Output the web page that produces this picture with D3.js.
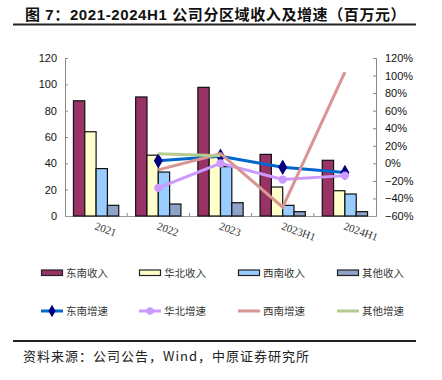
<!DOCTYPE html>
<html><head><meta charset="utf-8">
<script src="https://cdn.jsdelivr.net/npm/d3@7"></script>
<style>body{margin:0;background:#fff}svg{display:block}</style>
</head><body>
<svg id="c" width="442" height="380"></svg>
<script>
const categories = ["2021","2022","2023","2023H1","2024H1"];
const eastRev  = [87.5, 90.4, 97.7, 46.8, 42.3];
const northRev = [64, 46.2, 46, 22, 19.2];
const westRev  = [36, 33.4, 37.5, 8.1, 16.7];
const otherRev = [8.1, 9.1, 10.1, 3.3, 3.3];
const eastGr  = [null, 0.03, 0.08, -0.045, -0.105];
const northGr = [null, -0.28, 0.0, -0.185, -0.14];
const westGr  = [null, -0.075, 0.11, -0.50, 1.04];
const otherGr = [null, 0.11, 0.085, null, null];
const leftTicks = [0,20,40,60,80,100,120];
const rightTicks = [-0.6,-0.4,-0.2,0,0.2,0.4,0.6,0.8,1.0,1.2];

const svg = d3.select("#c");
const L = 65, R = 376, T = 58, B = 216;
const x = d3.scaleBand().domain(categories).range([L, R]).paddingInner(0.272).paddingOuter(0.136);
const xi = d3.scaleBand().domain([0,1,2,3]).range([0, x.bandwidth()]);
const y = d3.scaleLinear().domain([0,120]).range([B, T]);
const y2 = d3.scaleLinear().domain([-0.6,1.2]).range([B, T]);

// title
svg.append("text").attr("x", 25).attr("y", 20).attr("font-family","Liberation Sans, Noto Sans CJK SC, sans-serif")
  .attr("font-weight","bold").attr("font-size", 15).attr("letter-spacing", 0.6).attr("fill","#111")
  .text("图 7：2021-2024H1 公司分区域收入及增速（百万元）");
svg.append("line").attr("x1",13).attr("x2",416).attr("y1",24.5).attr("y2",24.5).attr("stroke","#222").attr("stroke-width",2);
svg.append("line").attr("x1",13).attr("x2",416).attr("y1",341).attr("y2",341).attr("stroke","#222").attr("stroke-width",2);
svg.append("text").attr("x", 23).attr("y", 361).attr("font-family","Noto Sans CJK SC, sans-serif")
  .attr("font-size", 13).attr("letter-spacing", 1).attr("fill","#222").text("资料来源：公司公告，Wind，中原证券研究所");

// axes
const axL = svg.append("g").attr("transform",`translate(${L},0)`)
  .call(d3.axisRight(y).tickValues(leftTicks).tickSize(3).tickFormat(d3.format("d")));
axL.selectAll("text").attr("x", -8).attr("text-anchor","end");
const axR = svg.append("g").attr("transform",`translate(${R},0)`)
  .call(d3.axisLeft(y2).tickValues(rightTicks).tickSize(3).tickFormat(d3.format(".0%")));
axR.selectAll("text").attr("x", 9).attr("text-anchor","start");
[axL, axR].forEach(a => {
  a.select(".domain").attr("stroke","#888");
  a.selectAll(".tick line").attr("stroke","#888");
  a.selectAll("text").attr("font-family","Liberation Sans, Arial, sans-serif").attr("font-size",11).attr("fill","#111");
});
// x axis
svg.append("line").attr("x1",L).attr("x2",R).attr("y1",B+0.5).attr("y2",B+0.5).attr("stroke","#999");
const bounds = categories.slice(1).map(c => x(c) - x.step()*x.paddingInner()/2);
svg.selectAll(".xt").data(bounds).enter().append("line")
  .attr("x1",d=>d).attr("x2",d=>d).attr("y1",B).attr("y2",B-3).attr("stroke","#888");
svg.selectAll(".xl").data(categories).enter().append("text")
  .attr("transform", d => `translate(${x(d)+x.bandwidth()/2 - 2},${B+13}) rotate(20)`)
  .attr("font-family","Liberation Serif, Times New Roman, serif").attr("font-size",11).attr("fill","#333")
  .text(d=>d);

// bars
const barSeries = [
  {name:"东南收入", vals:eastRev, color:"#993366"},
  {name:"华北收入", vals:northRev, color:"#FFFFCC"},
  {name:"西南收入", vals:westRev, color:"#99CCFF"},
  {name:"其他收入", vals:otherRev, color:"#8FA3C9"}
];
barSeries.forEach((s, si) => {
  svg.append("g").selectAll("rect").data(s.vals).enter().append("rect")
    .attr("x", (d,i) => x(categories[i]) + xi(si))
    .attr("width", xi.bandwidth())
    .attr("y", d => y(d)).attr("height", d => B - y(d))
    .attr("fill", s.color).attr("stroke","#111").attr("stroke-width",1.2);
});

// lines
const lineSeries = [
  {name:"东南增速", vals:eastGr, color:"#0066CC", marker:"diamond", mcolor:"#000080"},
  {name:"华北增速", vals:northGr, color:"#CC99FF", marker:"circle", mcolor:"#CC99FF"},
  {name:"西南增速", vals:westGr, color:"#D99594", marker:null},
  {name:"其他增速", vals:otherGr, color:"#B5CC8E", marker:null}
];
const cx = i => x(categories[i]) + x.bandwidth()/2;
const line = d3.line().defined(d => d.v !== null).x(d => cx(d.i)).y(d => y2(d.v));
lineSeries.forEach(s => {
  const pts = s.vals.map((v,i)=>({v,i}));
  svg.append("path").attr("d", line(pts)).attr("fill","none").attr("stroke", s.color)
    .attr("stroke-width", 3).attr("stroke-linejoin","miter");
  if (s.marker) {
    const sym = d3.symbol().type(s.marker === "diamond" ? d3.symbolDiamond : d3.symbolCircle).size(s.marker==="diamond"?70:55);
    svg.append("g").selectAll("path").data(pts.filter(p=>p.v!==null)).enter().append("path")
      .attr("transform", p => `translate(${cx(p.i)},${y2(p.v)})`).attr("d", sym()).attr("fill", s.mcolor);
  }
});

// legend
const legX = [41, 139, 238, 337];
const legFont = "Noto Sans CJK SC, sans-serif";
barSeries.forEach((s,i) => {
  const g = svg.append("g").attr("transform",`translate(${legX[i]},273)`);
  g.append("rect").attr("x",0.5).attr("y",-3).attr("width",21).attr("height",5.5).attr("fill",s.color).attr("stroke","#222").attr("stroke-width",1.2);
  g.append("text").attr("x",25).attr("y",4).attr("font-family",legFont).attr("font-size",10.5).attr("fill","#333").text(s.name);
});
lineSeries.forEach((s,i) => {
  const g = svg.append("g").attr("transform",`translate(${legX[i]},311)`);
  g.append("line").attr("x1",0).attr("x2",22).attr("y1",0).attr("y2",0).attr("stroke",s.color).attr("stroke-width",3);
  if (s.marker) {
    const sym = d3.symbol().type(s.marker === "diamond" ? d3.symbolDiamond : d3.symbolCircle).size(45);
    g.append("path").attr("transform","translate(11,0)").attr("d",sym()).attr("fill",s.mcolor);
  }
  g.append("text").attr("x",25).attr("y",4).attr("font-family",legFont).attr("font-size",10.5).attr("fill","#333").text(s.name);
});
</script>
</body></html>
